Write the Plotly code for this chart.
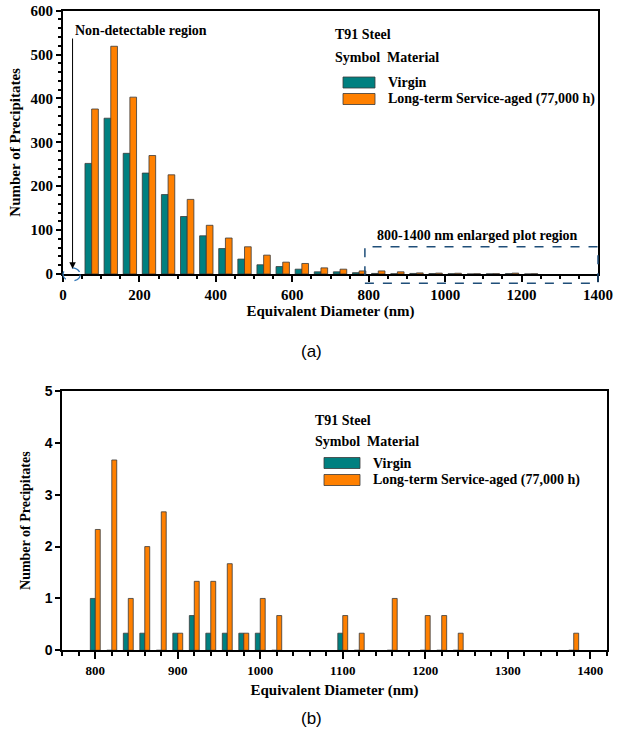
import plotly.graph_objects as go

# ---------------- data ----------------
# (a) full range, 50 nm bins (bin centres)
diam_a = [75, 125, 175, 225, 275, 325, 375, 425, 475, 525, 575, 625, 675,
          725, 775, 825, 875, 925, 975, 1025, 1075, 1125, 1175, 1225]
virgin_a = [252, 355, 275, 230, 181, 131, 87, 58, 34, 21, 17, 11, 5,
            5, 3, 1.3, 0.5, 1.3, 1, 0.7, 0, 0.3, 0.8, 0]
aged_a = [376, 519, 403, 270, 226, 170, 111, 82, 62, 43, 27, 24, 14,
          11, 7, 7, 5, 2.5, 2, 1.7, 0.5, 0.7, 2, 0.5]

# (b) enlarged 800-1400 nm, 20 nm bins
diam_b = [800, 820, 840, 860, 880, 900, 920, 940, 960, 980, 1000, 1020,
          1100, 1120, 1160, 1200, 1220, 1240, 1380]
virgin_b = [1, 0, 0.33, 0.33, 0, 0.33, 0.67, 0.33, 0.33, 0.33, 0.33, 0,
            0.33, 0, 0, 0, 0, 0, 0]
aged_b = [2.33, 3.67, 1, 2, 2.67, 0.33, 1.33, 1.33, 1.67, 0.33, 1, 0.67,
          0.67, 0.33, 1, 0.67, 0.67, 0.33, 0.33]

series_names = ["Virgin", "Long-term Service-aged (77,000 h)"]
TEAL = "#008080"
ORANGE = "#FF8000"

# ---------------- layout geometry ----------------
W, H = 622, 742
XA_DOM = [63 / W, 598 / W]
YA_DOM = [1 - 274 / H, 1 - 10.7 / H]
XB_DOM = [62.3 / W, 606.7 / W]
YB_DOM = [1 - 650.3 / H, 1 - 391 / H]
XA_RANGE, YA_RANGE = [0, 1400], [0, 600]
XB_RANGE, YB_RANGE = [760, 1420], [0, 5]

SERIF = "Liberation Serif, Times New Roman, serif"
SANS = "Liberation Sans, Arial, sans-serif"


def px_a(x):
    return XA_DOM[0] + (x - XA_RANGE[0]) / (XA_RANGE[1] - XA_RANGE[0]) * (XA_DOM[1] - XA_DOM[0])


def py_a(y):
    return YA_DOM[0] + (y - YA_RANGE[0]) / (YA_RANGE[1] - YA_RANGE[0]) * (YA_DOM[1] - YA_DOM[0])


fig = go.Figure()

bar_line = dict(color="#3a3a3a", width=0.8)
fig.add_trace(go.Bar(x=diam_a, y=virgin_a, name=series_names[0], width=17.5, offset=-17.5,
                     marker=dict(color=TEAL, line=bar_line), xaxis="x", yaxis="y", showlegend=False))
fig.add_trace(go.Bar(x=diam_a, y=aged_a, name=series_names[1], width=17.5, offset=0,
                     marker=dict(color=ORANGE, line=bar_line), xaxis="x", yaxis="y", showlegend=False))
fig.add_trace(go.Bar(x=diam_b, y=virgin_b, name=series_names[0], width=6, offset=-6,
                     marker=dict(color=TEAL, line=bar_line), xaxis="x2", yaxis="y2", showlegend=False))
fig.add_trace(go.Bar(x=diam_b, y=aged_b, name=series_names[1], width=6, offset=0,
                     marker=dict(color=ORANGE, line=bar_line), xaxis="x2", yaxis="y2", showlegend=False))

tick_serif = dict(family=SERIF, size=15, color="black", weight="bold")
title_serif = dict(family=SERIF, size=15, color="black", weight="bold")

axis_common = dict(showgrid=False, zeroline=False, showline=True, linecolor="black",
                   linewidth=2, mirror=True, ticks="outside", tickcolor="black",
                   automargin=False)

fig.update_layout(
    width=W, height=H, margin=dict(l=0, r=0, t=0, b=0),
    paper_bgcolor="white", plot_bgcolor="white", barmode="overlay",
    xaxis=dict(domain=XA_DOM, range=XA_RANGE, anchor="y", dtick=200, tick0=0,
               ticklen=6, tickwidth=1.5, tickfont=tick_serif,
               minor=dict(dtick=50, ticklen=3, ticks="outside", tickcolor="black"),
               title=dict(text="Equivalent Diameter (nm)", font=title_serif, standoff=3),
               **axis_common),
    yaxis=dict(domain=YA_DOM, range=YA_RANGE, anchor="x", dtick=100,
               ticklen=5, tickwidth=1.5, tickfont=tick_serif,
               minor=dict(dtick=20, ticklen=3, ticks="outside", tickcolor="black"),
               title=dict(text="Number of Precipitates", font=title_serif, standoff=6),
               **axis_common),
    xaxis2=dict(domain=XB_DOM, range=XB_RANGE, anchor="y2", dtick=100, tick0=800,
                ticklen=7, tickwidth=1.5, tickfont=dict(family=SERIF, size=13, color="black", weight="bold"),
                minor=dict(dtick=20, tick0=800, ticklen=4, ticks="outside", tickcolor="black"),
                title=dict(text="Equivalent Diameter (nm)", font=title_serif, standoff=8),
                **axis_common),
    yaxis2=dict(domain=YB_DOM, range=YB_RANGE, anchor="x2", dtick=1,
                ticklen=5, tickwidth=1.5,
                tickfont=dict(family=SANS, size=14, color="black", weight="bold"),
                title=dict(text="Number of Precipitates", font=dict(family=SERIF, size=14, color="black", weight="bold"), standoff=11),
                **axis_common),
)

annotations = []
shapes = []

def txt(x, y, s, size=14, family=SERIF, bold=True, xanchor="left"):
    annotations.append(dict(x=x / W, y=1 - y / H, xref="paper", yref="paper", text=s,
                            showarrow=False, xanchor=xanchor, yanchor="middle",
                            font=dict(family=family, size=size, color="black",
                                      weight="bold" if bold else "normal")))

# --- panel (a) decorations ---
txt(73, 30, "Non-detectable region", size=14)
annotations.append(dict(x=25, y=12, xref="x", yref="y", ax=25, ay=540, axref="x", ayref="y",
                        showarrow=True, arrowhead=2, arrowsize=1.3, arrowwidth=1,
                        arrowcolor="black", text=""))
shapes.append(dict(type="circle", xref="paper", yref="paper",
                   x0=px_a(0), x1=px_a(45), y0=py_a(-16), y1=py_a(14),
                   line=dict(color="#2e75b6", width=1.3, dash="dash")))
shapes.append(dict(type="rect", xref="paper", yref="paper",
                   x0=px_a(790), x1=px_a(1400), y0=py_a(-21), y1=py_a(62),
                   line=dict(color="#1f4e79", width=1.5, dash="dash")))
txt(477, 235, "800-1400 nm enlarged plot region", size=14, xanchor="center")

def legend_block(x, y_title, y_sym, y1, y2, sw_x0, sw_x1, sw_h, text_x, size):
    txt(x, y_title, "T91 Steel", size=size)
    txt(x, y_sym, "Symbol&nbsp;&nbsp;Material", size=size)
    for yc, col, name in [(y1, TEAL, series_names[0]), (y2, ORANGE, series_names[1])]:
        shapes.append(dict(type="rect", xref="paper", yref="paper",
                           x0=sw_x0 / W, x1=sw_x1 / W,
                           y0=1 - (yc + sw_h / 2) / H, y1=1 - (yc - sw_h / 2) / H,
                           fillcolor=col, line=dict(color="#3a3a3a", width=0.8)))
        txt(text_x, yc, name, size=size)

legend_block(333, 35, 57, 82.5, 99, 343, 375, 11, 386, 14)
legend_block(312.7, 420, 441, 463, 480, 324, 360, 11, 370.7, 14)

# panel labels
txt(311, 351, "(a)", size=17, family=SANS, bold=False, xanchor="center")
txt(311, 718, "(b)", size=17, family=SANS, bold=False, xanchor="center")

fig.update_layout(annotations=annotations, shapes=shapes)

fig.write_html("out.html", config={"displayModeBar": False},
               post_script="document.body.style.margin='0px';document.body.style.overflow='hidden';")
